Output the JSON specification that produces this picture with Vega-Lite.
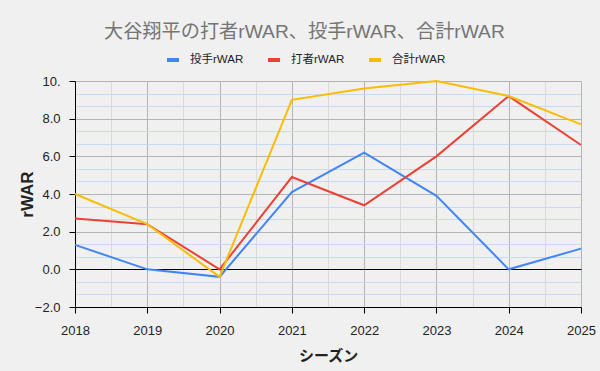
{
  "$schema": "https://vega.github.io/schema/vega-lite/v6.json",
  "width": 506,
  "height": 226,
  "autosize": {"type": "none"},
  "padding": {"left": 75, "top": 81, "right": 19, "bottom": 64},
  "background": "#f0f0f0",
  "config": {"view": {"stroke": null}, "font": "Liberation Sans, Noto Sans CJK JP"},
  "title": {
    "text": "大谷翔平の打者rWAR、投手rWAR、合計rWAR",
    "anchor": "start",
    "frame": "group",
    "dx": 29,
    "offset": 10,
    "fontSize": 19.2,
    "fontWeight": "normal",
    "color": "#757575",
    "font": "Liberation Sans, Noto Sans CJK JP"
  },
  "data": {
    "values": [
      {"season": 2018, "type": "投手rWAR", "value": 1.3},
      {"season": 2019, "type": "投手rWAR", "value": 0.0},
      {"season": 2020, "type": "投手rWAR", "value": -0.4},
      {"season": 2021, "type": "投手rWAR", "value": 4.1},
      {"season": 2022, "type": "投手rWAR", "value": 6.2},
      {"season": 2023, "type": "投手rWAR", "value": 3.9},
      {"season": 2024, "type": "投手rWAR", "value": 0.0},
      {"season": 2025, "type": "投手rWAR", "value": 1.1},
      {"season": 2018, "type": "打者rWAR", "value": 2.7},
      {"season": 2019, "type": "打者rWAR", "value": 2.4},
      {"season": 2020, "type": "打者rWAR", "value": 0.0},
      {"season": 2021, "type": "打者rWAR", "value": 4.9},
      {"season": 2022, "type": "打者rWAR", "value": 3.4},
      {"season": 2023, "type": "打者rWAR", "value": 6.0},
      {"season": 2024, "type": "打者rWAR", "value": 9.2},
      {"season": 2025, "type": "打者rWAR", "value": 6.6},
      {"season": 2018, "type": "合計rWAR", "value": 4.0},
      {"season": 2019, "type": "合計rWAR", "value": 2.4},
      {"season": 2020, "type": "合計rWAR", "value": -0.4},
      {"season": 2021, "type": "合計rWAR", "value": 9.0},
      {"season": 2022, "type": "合計rWAR", "value": 9.6},
      {"season": 2023, "type": "合計rWAR", "value": 10.0},
      {"season": 2024, "type": "合計rWAR", "value": 9.2},
      {"season": 2025, "type": "合計rWAR", "value": 7.7}
    ]
  },
  "layer": [
    {
      "mark": {"type": "line", "opacity": 0},
      "encoding": {
        "x": {
          "field": "season", "type": "quantitative",
          "scale": {"domain": [2018, 2025], "nice": false, "zero": false},
          "axis": {"orient": "bottom", "values": [2018.5, 2019.5, 2020.5, 2021.5, 2022.5, 2023.5, 2024.5],
            "grid": true, "gridColor": "#dadada", "gridOpacity": 1, "labels": false, "ticks": false, "domain": false, "title": null}
        },
        "y": {
          "field": "value", "type": "quantitative",
          "scale": {"domain": [-2, 10], "nice": false, "zero": false},
          "axis": {"orient": "left", "values": [-1.3333, -0.6667, 0.6667, 1.3333, 2.6667, 3.3333, 4.6667, 5.3333, 6.6667, 7.3333, 8.6667, 9.3333],
            "grid": true, "gridColor": "#c6d9f7", "gridOpacity": 1, "labels": false, "ticks": false, "domain": false, "title": null}
        },
        "detail": {"field": "type"}
      }
    },
    {
      "mark": {"type": "line", "strokeWidth": 2},
      "encoding": {
        "x": {
          "field": "season", "type": "quantitative",
          "scale": {"domain": [2018, 2025], "nice": false, "zero": false},
          "axis": {"orient": "bottom", "values": [2018, 2019, 2020, 2021, 2022, 2023, 2024, 2025], "format": "d",
            "grid": true, "gridColor": "#b4b4b4", "gridOpacity": 1, "labelFlush": false, "labelOverlap": false,
            "domainColor": "#000000", "tickColor": "#000000", "tickSize": 6,
            "labelFontSize": 13, "labelColor": "#222222", "labelPadding": 11, "labelFont": "Liberation Sans",
            "title": "シーズン", "titleFontSize": 15, "titleFontWeight": "bold", "titleColor": "#222222", "titlePadding": 11,
            "titleFont": "Noto Sans CJK JP"}
        },
        "y": {
          "field": "value", "type": "quantitative",
          "scale": {"domain": [-2, 10], "nice": false, "zero": false},
          "axis": {"orient": "left", "values": [-2, 0, 2, 4, 6, 8, 10], "format": ".1f",
            "labelExpr": "datum.value == 10 ? '10.' : datum.label",
            "grid": true, "gridOpacity": 1, "labelFlush": false, "labelOverlap": false,
            "gridColor": {"condition": {"test": "datum.value === 0", "value": "#000000"}, "value": "#b4b4b4"},
            "domainColor": "#000000", "tickColor": "#000000", "tickSize": 6,
            "labelFontSize": 13, "labelColor": "#222222", "labelPadding": 9, "labelFont": "Liberation Sans",
            "title": "rWAR", "titleFontSize": 17, "titleFontWeight": "bold", "titleColor": "#222222", "titlePadding": -2,
            "titleFont": "Liberation Sans"}
        },
        "color": {
          "field": "type", "type": "nominal",
          "scale": {"domain": ["投手rWAR", "打者rWAR", "合計rWAR"], "range": ["#4285F4", "#EA4335", "#FBBC04"]},
          "legend": {
            "orient": "none", "legendX": 90, "legendY": -29, "direction": "horizontal", "title": null,
            "symbolType": "stroke", "symbolSize": 144, "symbolStrokeWidth": 4,
            "labelFontSize": 11.5, "labelColor": "#222222", "labelFont": "Liberation Sans, Noto Sans CJK JP",
            "columnPadding": 16, "labelOffset": 9
          }
        }
      }
    }
  ],
  "resolve": {"axis": {"x": "independent", "y": "independent"}}
}
